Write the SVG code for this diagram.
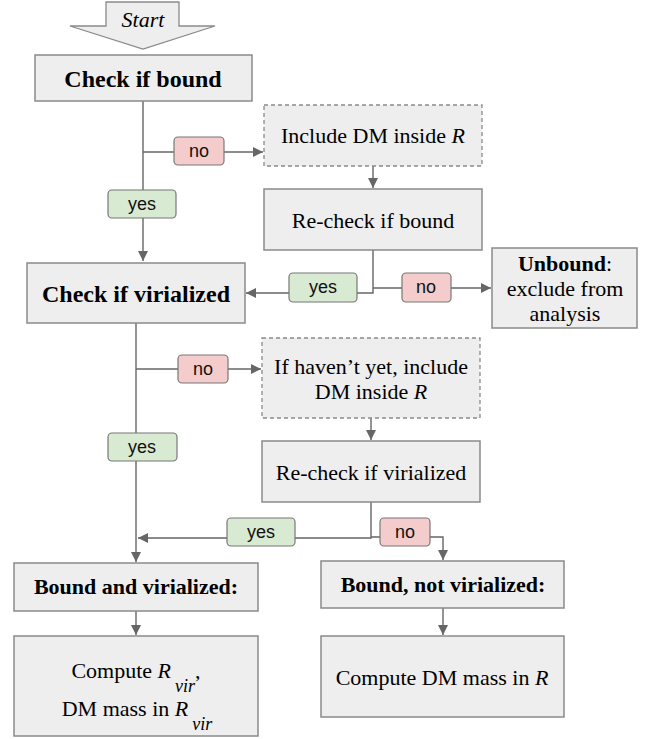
<svg xmlns="http://www.w3.org/2000/svg" width="651" height="739" viewBox="0 0 651 739">
<defs>
<style>
.box{fill:#eeeeee;stroke:#8a8a8a;stroke-width:1.5}
.dash{fill:#eeeeee;stroke:#8a8a8a;stroke-width:1.3;stroke-dasharray:4 3}
.t{font-family:"Liberation Serif","Times New Roman",serif;font-size:22px;fill:#000;text-anchor:middle}
.b{font-weight:bold}
.big{font-size:24px}
.conn{fill:none;stroke:#666;stroke-width:1.4}
.yes{fill:#d9ead3;stroke:#777;stroke-width:1.2}
.no{fill:#f4cccc;stroke:#777;stroke-width:1.2}
.lt{font-family:"Liberation Sans",Arial,sans-serif;font-size:18px;fill:#111;text-anchor:middle}
</style>
<marker id="ah" viewBox="0 0 10 10" refX="10" refY="5" markerWidth="10" markerHeight="10" markerUnits="userSpaceOnUse" orient="auto">
<path d="M0,0 L10,5 L0,10 z" fill="#666"/>
</marker>
</defs>
<rect width="651" height="739" fill="#fff"/>

<g id="start">
<polygon points="106,2 179,2 179,26 215,26 143,49 70,26 106,26" fill="#eeeeee" stroke="#8a8a8a" stroke-width="1.3"/>
<text class="t" x="143" y="27" font-style="italic">Start</text>
</g>

<g id="connectors">
<path class="conn" d="M143,101 V261" marker-end="url(#ah)"/>
<path class="conn" d="M143,152 H263" marker-end="url(#ah)"/>
<path class="conn" d="M373,166 V188" marker-end="url(#ah)"/>
<path class="conn" d="M373,250 V293 H246" marker-end="url(#ah)"/>
<path class="conn" d="M373,288 H491" marker-end="url(#ah)"/>
<path class="conn" d="M136,323 V562" marker-end="url(#ah)"/>
<path class="conn" d="M136,369 H261" marker-end="url(#ah)"/>
<path class="conn" d="M371,418 V440" marker-end="url(#ah)"/>
<path class="conn" d="M371,502 V538 H138" marker-end="url(#ah)"/>
<path class="conn" d="M371,537 H443 V560" marker-end="url(#ah)"/>
<path class="conn" d="M136,611 V635" marker-end="url(#ah)"/>
<path class="conn" d="M443,608 V635" marker-end="url(#ah)"/>
<g id="label-no-1"><rect class="no" x="174" y="137" width="50" height="28" rx="4"/><text class="lt" x="199" y="157">no</text></g>
<g id="label-yes-1"><rect class="yes" x="108" y="190" width="68" height="28" rx="4"/><text class="lt" x="142" y="210">yes</text></g>
<g id="label-yes-2"><rect class="yes" x="289" y="273" width="68" height="29" rx="4"/><text class="lt" x="323" y="293">yes</text></g>
<g id="label-no-2"><rect class="no" x="402" y="273" width="49" height="29" rx="4"/><text class="lt" x="426" y="293">no</text></g>
<g id="label-no-3"><rect class="no" x="178" y="355" width="50" height="28" rx="4"/><text class="lt" x="203" y="375">no</text></g>
<g id="label-yes-3"><rect class="yes" x="108" y="433" width="69" height="28" rx="4"/><text class="lt" x="142" y="453">yes</text></g>
<g id="label-yes-4"><rect class="yes" x="227" y="518" width="68" height="28" rx="4"/><text class="lt" x="261" y="538">yes</text></g>
<g id="label-no-4"><rect class="no" x="380" y="518" width="50" height="28" rx="4"/><text class="lt" x="405" y="538">no</text></g>
</g>

<g id="check-bound">
<rect class="box" x="35" y="55" width="217" height="46"/>
<text class="t b big" x="143" y="87">Check if bound</text>
</g>

<g id="include-dm">
<rect class="dash" x="264" y="105" width="218" height="61"/>
<text class="t" x="373" y="143">Include DM inside <tspan font-style="italic">R</tspan></text>
</g>

<g id="recheck-bound">
<rect class="box" x="264" y="189" width="218" height="61"/>
<text class="t" x="373" y="228">Re-check if bound</text>
</g>

<g id="check-virialized">
<rect class="box" x="27" y="263" width="218" height="60"/>
<text class="t b big" x="136" y="302">Check if virialized</text>
</g>

<g id="unbound">
<rect class="box" x="492" y="248" width="145" height="80"/>
<text class="t" x="565" y="271"><tspan font-weight="bold">Unbound</tspan>:</text>
<text class="t" x="565" y="296">exclude from</text>
<text class="t" x="565" y="321">analysis</text>
</g>

<g id="if-havent">
<rect class="dash" x="262" y="338" width="218" height="80"/>
<text class="t" x="371" y="374">If haven’t yet, include</text>
<text class="t" x="371" y="399">DM inside <tspan font-style="italic">R</tspan></text>
</g>

<g id="recheck-virialized">
<rect class="box" x="262" y="441" width="218" height="61"/>
<text class="t" x="371" y="480">Re-check if virialized</text>
</g>

<g id="bound-virialized">
<rect class="box" x="14" y="563" width="244" height="48"/>
<text class="t b" x="136" y="594">Bound and virialized:</text>
</g>

<g id="compute-rvir">
<rect class="box" x="14" y="636" width="244" height="100"/>
<text class="t" x="136" y="678">Compute <tspan font-style="italic">R</tspan><tspan dx="4" dy="14" font-style="italic" font-size="18">vir</tspan><tspan dy="-14">,</tspan></text>
<text class="t" x="137" y="716">DM mass in <tspan font-style="italic">R</tspan><tspan dx="4" dy="14" font-style="italic" font-size="18">vir</tspan></text>
</g>

<g id="bound-not-virialized">
<rect class="box" x="321" y="561" width="243" height="47"/>
<text class="t b" x="443" y="592">Bound, not virialized:</text>
</g>

<g id="compute-dm">
<rect class="box" x="321" y="636" width="243" height="81"/>
<text class="t" x="442" y="685">Compute DM mass in <tspan font-style="italic">R</tspan></text>
</g>
</svg>
